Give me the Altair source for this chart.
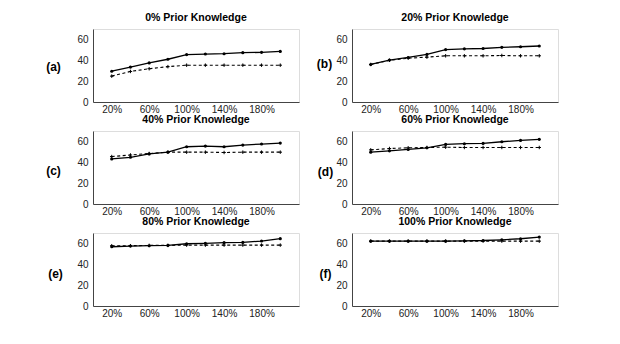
import altair as alt
import pandas as pd

x_vals = [20, 40, 60, 80, 100, 120, 140, 160, 180, 200]
x_ticks = [20, 60, 100, 140, 180]
y_ticks = [0, 20, 40, 60]

titles = ["0% Prior Knowledge", "20% Prior Knowledge", "40% Prior Knowledge",
          "60% Prior Knowledge", "80% Prior Knowledge", "100% Prior Knowledge"]
labels = ["(a)", "(b)", "(c)", "(d)", "(e)", "(f)"]

a_solid = [29.5, 33.5, 37.5, 41, 45.5, 46, 46.3, 47.3, 47.6, 48.5]
a_dashed = [24.8, 29.3, 31.9, 33.9, 35.3, 35.3, 35.3, 35.3, 35.3, 35.3]
b_solid = [36, 40.2, 42.7, 45.6, 50.3, 51, 51.3, 52.4, 53, 53.7]
b_dashed = [36, 40, 42, 43, 44.3, 44.3, 44.3, 44.6, 44.3, 44.3]
c_solid = [43.2, 44.8, 48, 49.7, 54.9, 55.5, 54.9, 56.5, 57.5, 58.4]
c_dashed = [45.5, 47, 48.4, 49.7, 49.7, 49.7, 49.4, 49.7, 49.7, 49.7]
d_solid = [49.7, 51, 52.3, 53.9, 57.1, 57.8, 58.1, 59.7, 61, 62]
d_dashed = [51.9, 53.2, 53.9, 54.2, 54.5, 54.2, 54.2, 54.2, 54.2, 54.2]
e_solid = [56.8, 57.5, 57.8, 58.1, 59.7, 60.1, 60.7, 61, 62.3, 64.6]
e_dashed = [57.8, 57.8, 58.1, 58.1, 58.4, 58.4, 58.4, 58.4, 58.4, 58.4]
f_solid = [62.2, 62.2, 62.2, 62.2, 62.2, 62.5, 62.8, 63.5, 64.5, 66.1]
f_dashed = [62.2, 62.2, 62.2, 62.2, 62.2, 62.2, 62.2, 62.2, 62.2, 62.2]

FONT = "Liberation Sans"
PLUS = "M-1,0L1,0M0,-1L0,1"
W = 206
H = 73


def panel(solid, dashed, title, label, tx, ty):
    df = pd.DataFrame({"x": x_vals * 2,
                       "y": solid + dashed,
                       "s": ["solid"] * len(x_vals) + ["dashed"] * len(x_vals)})
    base = alt.Chart(df)
    xenc = alt.X("x:Q", scale=alt.Scale(domain=[0, 220], nice=False),
                 axis=alt.Axis(values=x_ticks, labelExpr="datum.value + '%'",
                               title=None, grid=False, ticks=False,
                               labelPadding=2, labelFontSize=10, labelFont=FONT,
                               labelColor="#222", domainColor="#444"))
    yenc = alt.Y("y:Q", scale=alt.Scale(domain=[0, 70], nice=False),
                 axis=alt.Axis(values=y_ticks, title=label, grid=False, ticks=False,
                               labelPadding=5, labelFontSize=10, labelFont=FONT,
                               labelColor="#222", domainColor="#444",
                               titleAngle=0, titleX=tx, titleY=ty,
                               titleAlign="center", titleBaseline="middle",
                               titleFont=FONT, titleFontSize=12,
                               titleFontWeight="bold", titleColor="#000"))
    solid_line = base.transform_filter("datum.s == 'solid'").mark_line(
        color="black", strokeWidth=1.3).encode(x=xenc, y=yenc)
    dashed_line = base.transform_filter("datum.s == 'dashed'").mark_line(
        color="black", strokeWidth=1.1, strokeDash=[3, 2.5]).encode(x=xenc, y=yenc)
    dots = base.transform_filter("datum.s == 'solid'").mark_point(
        shape="circle", filled=True, color="black", size=10, opacity=1).encode(x=xenc, y=yenc)
    plus = base.transform_filter("datum.s == 'dashed'").mark_point(
        shape=PLUS, filled=False, color="black", size=12, strokeWidth=1, opacity=1).encode(x=xenc, y=yenc)
    return alt.layer(solid_line, dashed_line, dots, plus).properties(
        width=W, height=H,
        title=alt.TitleParams(title, font=FONT, fontSize=10.5, fontWeight="bold",
                              color="#000", offset=6))


pa = panel(a_solid, a_dashed, titles[0], labels[0], -40, 37)
pb = panel(b_solid, b_dashed, titles[1], labels[1], -28, 34)
pc = panel(c_solid, c_dashed, titles[2], labels[2], -40, 39)
pd_ = panel(d_solid, d_dashed, titles[3], labels[3], -27, 40)
pe = panel(e_solid, e_dashed, titles[4], labels[4], -38, 40)
pf = panel(f_solid, f_dashed, titles[5], labels[5], -27, 40)

chart = alt.concat(pa, pb, pc, pd_, pe, pf, columns=2,
                   spacing={"row": 29, "column": 53}, bounds="flush").properties(
    padding={"left": 37, "top": 4, "right": 5, "bottom": 5}
).configure_view(stroke="#888", strokeWidth=1).configure(background="white")

chart.save("out.html", embed_options={"renderer": "svg", "actions": False})
